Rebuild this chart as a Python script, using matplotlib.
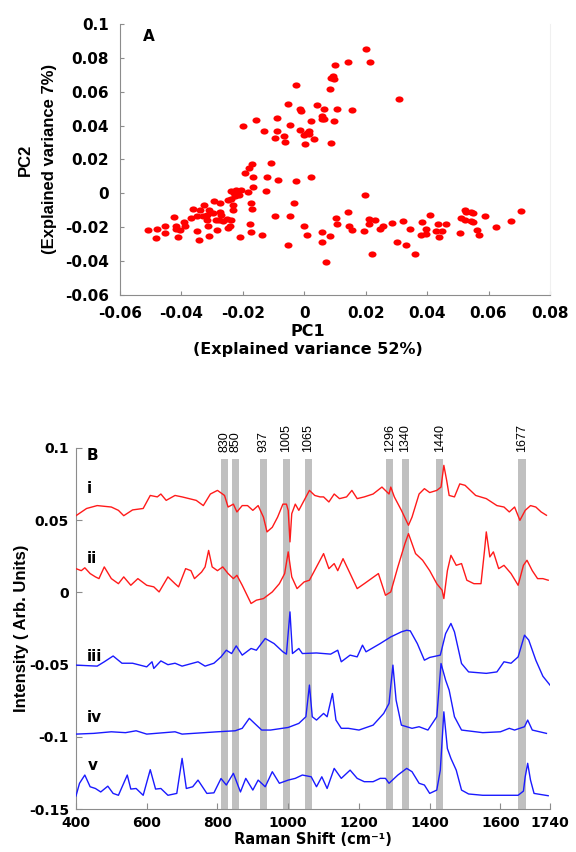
import numpy as np
import matplotlib
matplotlib.use("Agg")
import matplotlib.pyplot as plt
from matplotlib.path import Path

plt.rcParams['font.family'] = ['DejaVu Sans']
plt.rcParams['axes.unicode_minus'] = False

# ---- panel A: PCA scores ----
pc1 = [0.0202, 0.0215, 0.0143, 0.0100, 0.0092, 0.0088, 0.0098, 0.0083, -0.0026, 0.0307,
       -0.0054, 0.0041, -0.0014, -0.0012, 0.0064, 0.0107, 0.0157, 0.0058, 0.0059, 0.0065,
       0.0022, 0.0098, -0.0156, -0.0088, -0.0048, -0.0198, -0.0130, -0.0090, -0.0014, 0.0014,
       0.0008, 0.0017, -0.0002, -0.0066, -0.0094, 0.0032, -0.0064, 0.0002, 0.0088,
       -0.0108, -0.0169, -0.0180, -0.0192, -0.0120, -0.0166, 0.0022, -0.0084, -0.0027, -0.0166,
       -0.0124, -0.0205, -0.0222, -0.0237, -0.0229, -0.0184, -0.0213, -0.0225, 0.0199, -0.0249,
       -0.0237, -0.0294, -0.0273, -0.0172, -0.0035, -0.0327, -0.0231, -0.0171, -0.0361, -0.0339,
       -0.0309, -0.0297, -0.0273, -0.0270, -0.0231, 0.0141, -0.0318, -0.0330, -0.0350, -0.0369,
       -0.0424, -0.0318, -0.0288, -0.0276, -0.0252, -0.0240, -0.0264, -0.0094, -0.0048, 0.0104,
       0.0210, 0.0229, 0.0409, 0.0522, 0.0528, 0.0544, 0.0550, 0.0510, 0.0522, 0.0544,
       0.0550, 0.0588, 0.0705, 0.0672, 0.0321, 0.0286, 0.0383, 0.0211, 0.0107, 0.0436,
       0.0460, 0.0258, 0.0248, 0.0145, 0.0155, 0.0193, 0.0345, 0.0396, 0.0430, 0.0448,
       0.0396, 0.0381, 0.0439, 0.0508, 0.0564, 0.0568, 0.0624, -0.0001, 0.0010, 0.0059,
       0.0083, 0.0058, 0.0072, 0.0220, 0.0301, 0.0332, 0.0361, -0.0053, -0.0136, -0.0178,
       -0.0175, -0.0210, -0.0243, -0.0249, -0.0285, -0.0312, -0.0309, -0.0343, -0.0349, -0.0393,
       -0.0389, -0.0419, -0.0417, -0.0404, -0.0411, -0.0453, -0.0455, -0.0479, -0.0508, -0.0483]
pc2 = [0.0852, 0.0779, 0.0775, 0.0756, 0.0695, 0.0681, 0.0675, 0.0616, 0.0641, 0.0559,
       0.0531, 0.0525, 0.0498, 0.0484, 0.0501, 0.0498, 0.0494, 0.0458, 0.0438, 0.0438,
       0.0429, 0.0429, 0.0433, 0.0444, 0.0405, 0.0399, 0.0371, 0.0371, 0.0375, 0.0371,
       0.0356, 0.0352, 0.0346, 0.0336, 0.0326, 0.0322, 0.0302, 0.0292, 0.0297,
       0.0178, 0.0174, 0.0149, 0.0117, 0.0093, 0.0093, 0.0096, 0.0080, 0.0074, 0.0038,
       0.0011, 0.0017, 0.0021, 0.0015, 0.0001, 0.0005, -0.0009, -0.0019, -0.0009, -0.0038,
       -0.0034, -0.0048, -0.0058, -0.0060, -0.0060, -0.0068, -0.0068, -0.0094, -0.0094, -0.0098,
       -0.0098, -0.0117, -0.0113, -0.0127, -0.0101, -0.0113, -0.0127, -0.0137, -0.0137, -0.0147,
       -0.0141, -0.0157, -0.0157, -0.0157, -0.0153, -0.0161, -0.0167, -0.0137, -0.0137, -0.0147,
       -0.0153, -0.0157, -0.0129, -0.0098, -0.0109, -0.0113, -0.0117, -0.0149, -0.0157, -0.0167,
       -0.0173, -0.0137, -0.0105, -0.0163, -0.0167, -0.0176, -0.0173, -0.0180, -0.0180, -0.0182,
       -0.0182, -0.0192, -0.0210, -0.0196, -0.0220, -0.0226, -0.0212, -0.0212, -0.0226, -0.0226,
       -0.0241, -0.0249, -0.0259, -0.0235, -0.0216, -0.0245, -0.0200, -0.0196, -0.0245, -0.0232,
       -0.0251, -0.0291, -0.0407, -0.0358, -0.0291, -0.0309, -0.0360, -0.0309, -0.0247, -0.0182,
       -0.0230, -0.0257, -0.0196, -0.0206, -0.0216, -0.0192, -0.0251, -0.0279, -0.0222, -0.0173,
       -0.0196, -0.0196, -0.0212, -0.0216, -0.0261, -0.0192, -0.0235, -0.0210, -0.0220, -0.0263]

# ---- panel B: Raman spectra ----
shift_i = [400, 430, 460, 500, 520, 535, 560, 590, 610, 630, 640, 655, 680, 700, 740, 760, 780,
           800, 820, 830, 845, 855, 870, 885, 900, 915, 930, 940, 955, 970, 985, 995, 1000,
           1005, 1010, 1020, 1030, 1045, 1060, 1075, 1090, 1100, 1115, 1130, 1145, 1165, 1180,
           1195, 1215, 1240, 1265, 1285, 1290, 1300, 1320, 1340, 1350, 1370, 1385, 1400, 1420,
           1432, 1440, 1448, 1455, 1470, 1485, 1500, 1530, 1560, 1590, 1610, 1625, 1640, 1655,
           1670, 1685, 1700, 1715, 1730]
int_i = [0.053, 0.058, 0.060, 0.059, 0.0567, 0.053, 0.057, 0.058, 0.067, 0.066, 0.068, 0.0636,
         0.067, 0.066, 0.0636, 0.060, 0.068, 0.0705, 0.067, 0.059, 0.061, 0.0556, 0.060, 0.060,
         0.0567, 0.060, 0.052, 0.0418, 0.045, 0.052, 0.061, 0.061, 0.0567, 0.0349, 0.0544,
         0.061, 0.0567, 0.0636, 0.0705, 0.067, 0.066, 0.066, 0.0625, 0.068, 0.0648, 0.066,
         0.0705, 0.0648, 0.066, 0.068, 0.0728, 0.068, 0.0728, 0.066, 0.0567, 0.0464, 0.052,
         0.068, 0.0717, 0.069, 0.0705, 0.0728, 0.0878, 0.0774, 0.067, 0.066, 0.075, 0.074,
         0.067, 0.0648, 0.060, 0.059, 0.0556, 0.059, 0.0498, 0.0567, 0.060, 0.059, 0.0556, 0.0533]

shift_ii = [400, 415, 425, 440, 455, 465, 480, 500, 520, 535, 555, 575, 600, 620, 635, 660, 680,
            690, 710, 725, 735, 755, 765, 775, 785, 800, 815, 830, 845, 855, 870, 895, 910, 930,
            955, 975, 990, 1000, 1010, 1025, 1045, 1060, 1080, 1100, 1115, 1130, 1140, 1155,
            1175, 1195, 1215, 1235, 1255, 1275, 1290, 1310, 1330, 1340, 1360, 1380, 1400, 1420,
            1435, 1440, 1450, 1460, 1475, 1490, 1505, 1525, 1545, 1555, 1560, 1570, 1580, 1595,
            1610, 1630, 1650, 1665, 1675, 1690, 1705, 1720, 1735]
int_ii = [0.0164, 0.015, 0.017, 0.013, 0.0107, 0.0095, 0.0176, 0.0095, 0.006, 0.0107, 0.0049,
          0.0095, 0.0049, 0.0038, 0.0003, 0.0107, 0.006, 0.0038, 0.0164, 0.015, 0.0095, 0.014,
          0.0176, 0.029, 0.0176, 0.015, 0.0176, 0.013, 0.0095, 0.0118, 0.0049, -0.0077, -0.0054,
          -0.0043, 0.0003, 0.006, 0.013, 0.028, 0.0107, 0.0026, 0.0072, 0.0084, 0.0176, 0.0268,
          0.0164, 0.0199, 0.015, 0.0233, 0.013, 0.0026, 0.006, 0.0095, 0.013, -0.002, 0.0003,
          0.0176, 0.0337, 0.0406, 0.0268, 0.0222, 0.015, 0.006, 0.0015, -0.0043, 0.015, 0.0256,
          0.0187, 0.0199, 0.0084, 0.006, 0.006, 0.029, 0.0418, 0.0245, 0.028, 0.0164, 0.0187,
          0.013, 0.0049, 0.0187, 0.0222, 0.015, 0.0095, 0.0095, 0.0084]

shift_iii = [400, 460, 480, 505, 530, 560, 600, 615, 620, 640, 660, 680, 700, 745, 765, 790, 810,
             825, 840, 853, 870, 895, 910, 935, 960, 985, 995, 1005, 1012, 1030, 1040, 1080,
             1120, 1140, 1150, 1175, 1195, 1210, 1220, 1260, 1290, 1320, 1335, 1345, 1365, 1385,
             1400, 1430, 1445, 1460, 1470, 1490, 1510, 1560, 1590, 1610, 1630, 1650, 1668, 1680,
             1700, 1720, 1740]
int_iii = [-0.0503, -0.051, -0.048, -0.044, -0.049, -0.049, -0.0515, -0.048, -0.0526, -0.0474,
           -0.050, -0.049, -0.051, -0.048, -0.051, -0.049, -0.0446, -0.040, -0.0423, -0.037,
           -0.0434, -0.0388, -0.040, -0.0319, -0.0354, -0.0411, -0.0427, -0.0135, -0.0423,
           -0.0388, -0.0423, -0.0419, -0.0427, -0.040, -0.048, -0.0434, -0.0446, -0.0365,
           -0.0411, -0.0354, -0.0308, -0.0273, -0.0262, -0.0266, -0.0354, -0.0469, -0.045,
           -0.0434, -0.0285, -0.0215, -0.0273, -0.0492, -0.055, -0.056, -0.055, -0.048, -0.049,
           -0.0446, -0.0296, -0.033, -0.0469, -0.058, -0.0641]

shift_iv = [400, 450, 500, 540, 570, 600, 680, 700, 800, 850, 870, 890, 905, 925, 950, 1000, 1030,
            1050, 1060, 1068, 1080, 1100, 1110, 1125, 1135, 1150, 1170, 1200, 1240, 1270, 1285,
            1296, 1305, 1320, 1350, 1370, 1395, 1420, 1432, 1445, 1455, 1470, 1490, 1550, 1600,
            1625, 1640, 1668, 1677, 1690, 1730]
int_iv = [-0.098, -0.0975, -0.0964, -0.097, -0.0957, -0.098, -0.0964, -0.098, -0.0964, -0.0957,
          -0.094, -0.0871, -0.0906, -0.0952, -0.0952, -0.0934, -0.0906, -0.086, -0.0641, -0.086,
          -0.0883, -0.0837, -0.086, -0.0699, -0.0883, -0.094, -0.094, -0.0952, -0.0918, -0.0837,
          -0.0768, -0.0503, -0.0745, -0.0918, -0.094, -0.0929, -0.0952, -0.086, -0.0492,
          -0.0607, -0.0676, -0.086, -0.0952, -0.097, -0.0964, -0.094, -0.0952, -0.0929, -0.0883,
          -0.0952, -0.0975]

shift_v = [400, 410, 425, 440, 455, 470, 490, 505, 520, 545, 555, 570, 590, 610, 625, 640, 660,
           685, 700, 712, 730, 745, 770, 790, 810, 825, 845, 865, 880, 900, 915, 935, 955, 975,
           1000, 1020, 1040, 1065, 1080, 1095, 1110, 1130, 1150, 1175, 1195, 1215, 1240, 1260,
           1275, 1285, 1310, 1335, 1350, 1370, 1385, 1400, 1420, 1430, 1440, 1450, 1460, 1475,
           1490, 1510, 1550, 1650, 1665, 1670, 1677, 1685, 1695, 1735]
int_v = [-0.1408, -0.132, -0.1263, -0.1344, -0.1356, -0.138, -0.134, -0.139, -0.1403, -0.1263,
         -0.136, -0.1356, -0.1403, -0.1226, -0.136, -0.1356, -0.1403, -0.139, -0.1148, -0.1356,
         -0.1344, -0.1298, -0.139, -0.1386, -0.1287, -0.1332, -0.1251, -0.138, -0.1286, -0.1367,
         -0.1298, -0.1344, -0.124, -0.132, -0.1298, -0.1286, -0.1263, -0.1275, -0.1344, -0.1275,
         -0.1356, -0.1217, -0.1286, -0.1229, -0.1286, -0.1309, -0.1309, -0.1286, -0.1286,
         -0.132, -0.1263, -0.1217, -0.124, -0.132, -0.1332, -0.139, -0.1367, -0.1229, -0.0826,
         -0.108, -0.1148, -0.1229, -0.1367, -0.1394, -0.1403, -0.1403, -0.1374, -0.1275,
         -0.1182, -0.1298, -0.139, -0.1406]

spectra = [(shift_i, int_i, '#ff1a1a'), (shift_ii, int_ii, '#ff1a1a'),
           (shift_iii, int_iii, '#1a1aff'), (shift_iv, int_iv, '#1a1aff'),
           (shift_v, int_v, '#1a1aff')]
trace_names = ['i', 'ii', 'iii', 'iv', 'v']
trace_label_x = [438, 445, 453, 453, 448]
trace_label_y = [0.0721, 0.0233, -0.0446, -0.0865, -0.1194]

band_pos = [821, 852, 930, 995, 1057, 1287, 1331, 1428, 1661]
band_labels = ['830', '850', '937', '1005', '1065', '1296', '1340', '1440', '1677']

spine_col = '#8c8c8c'
narrow = 'Liberation Sans'

# slightly flattened dot, like the original markers
circ = Path.unit_circle()
dot = Path(circ.vertices * [1.3, 1.0], circ.codes)

fig = plt.figure(figsize=(5.76, 8.52), dpi=100)

# ---------- A ----------
ax1 = fig.add_axes([0.2083, 0.6543, 0.7465, 0.3172])
ax1.plot(pc1, pc2, linestyle='none', marker=dot, color='#ff0000', ms=5.8, mew=0)
ax1.set_xlim(-0.06, 0.08)
ax1.set_ylim(-0.06, 0.1)
xt = np.round(np.arange(-0.06, 0.081, 0.02), 2)
yt = np.round(np.arange(-0.06, 0.101, 0.02), 2)
ax1.set_xticks(xt)
ax1.set_xticklabels(['%g' % v for v in xt])
ax1.set_yticks(yt)
ax1.set_yticklabels(['%g' % v for v in yt])
ax1.spines['top'].set_visible(False)
ax1.spines['right'].set_color('#f0f0f0')
for s in ['left', 'bottom']:
    ax1.spines[s].set_color(spine_col)
ax1.tick_params(axis='x', direction='in', length=3, color=spine_col, pad=8, labelsize=11)
ax1.tick_params(axis='y', direction='in', length=3, color=spine_col, pad=8, labelsize=11)
ax1.tick_params(right=False, top=False)
for lab in ax1.get_xticklabels() + ax1.get_yticklabels():
    lab.set_fontweight('bold')
ax1.set_xlabel('PC1\n(Explained variance 52%)', fontsize=11.5, fontweight='bold',
               linespacing=1.25)
ax1.xaxis.set_label_coords(0.437, -0.11)
ax1.set_ylabel('PC2\n(Explained variance 7%)', fontsize=12, fontweight='bold',
               family=narrow, linespacing=1.75)
ax1.yaxis.set_label_coords(-0.147, 0.5)
ax1.text(0.068, 0.953, 'A', transform=ax1.transAxes, fontsize=11, fontweight='bold',
         ha='center', va='center')

# ---------- B ----------
ax2 = fig.add_axes([0.1319, 0.0501, 0.8229, 0.4244])
for c in band_pos:
    ax2.fill_between([c - 10, c + 10], -0.15, 0.092, color='#c0c0c0', lw=0, zorder=1)
for c, lab in zip(band_pos, band_labels):
    ax2.text(c, 0.097, lab, rotation=90, ha='center', va='bottom', fontsize=9,
             family=narrow, clip_on=False)
for x, y, col in spectra:
    ax2.plot(x, y, color=col, lw=1.0, zorder=3)
for name, tx, ty in zip(trace_names, trace_label_x, trace_label_y):
    ax2.text(tx, ty, name, ha='center', va='center', fontsize=11, fontweight='bold')
ax2.text(447, 0.0943, 'B', ha='center', va='center', fontsize=11, fontweight='bold')

ax2.set_xlim(400, 1740)
ax2.set_ylim(-0.15, 0.1)
xt2 = [400, 600, 800, 1000, 1200, 1400, 1600, 1740]
ax2.set_xticks(xt2)
ax2.set_xticklabels([str(v) for v in xt2])
yt2 = np.round(np.arange(-0.15, 0.101, 0.05), 2)
ax2.set_yticks(yt2)
ax2.set_yticklabels(['%g' % v for v in yt2])
ax2.spines['top'].set_visible(False)
ax2.spines['right'].set_visible(False)
for s in ['left', 'bottom']:
    ax2.spines[s].set_color(spine_col)
ax2.tick_params(axis='both', direction='in', length=4, color=spine_col, labelsize=10)
ax2.tick_params(axis='x', pad=5)
ax2.tick_params(axis='y', pad=5)
for lab in ax2.get_xticklabels() + ax2.get_yticklabels():
    lab.set_fontweight('bold')
ax2.set_xlabel('Raman Shift (cm\u207b\u00b9)', fontsize=10.5, fontweight='bold', labelpad=1)
ax2.set_ylabel('Intensity ( Arb. Units)', fontsize=12, fontweight='bold', family=narrow)
ax2.yaxis.set_label_coords(-0.1, 0.5)

fig.savefig('out.png', dpi=100)
